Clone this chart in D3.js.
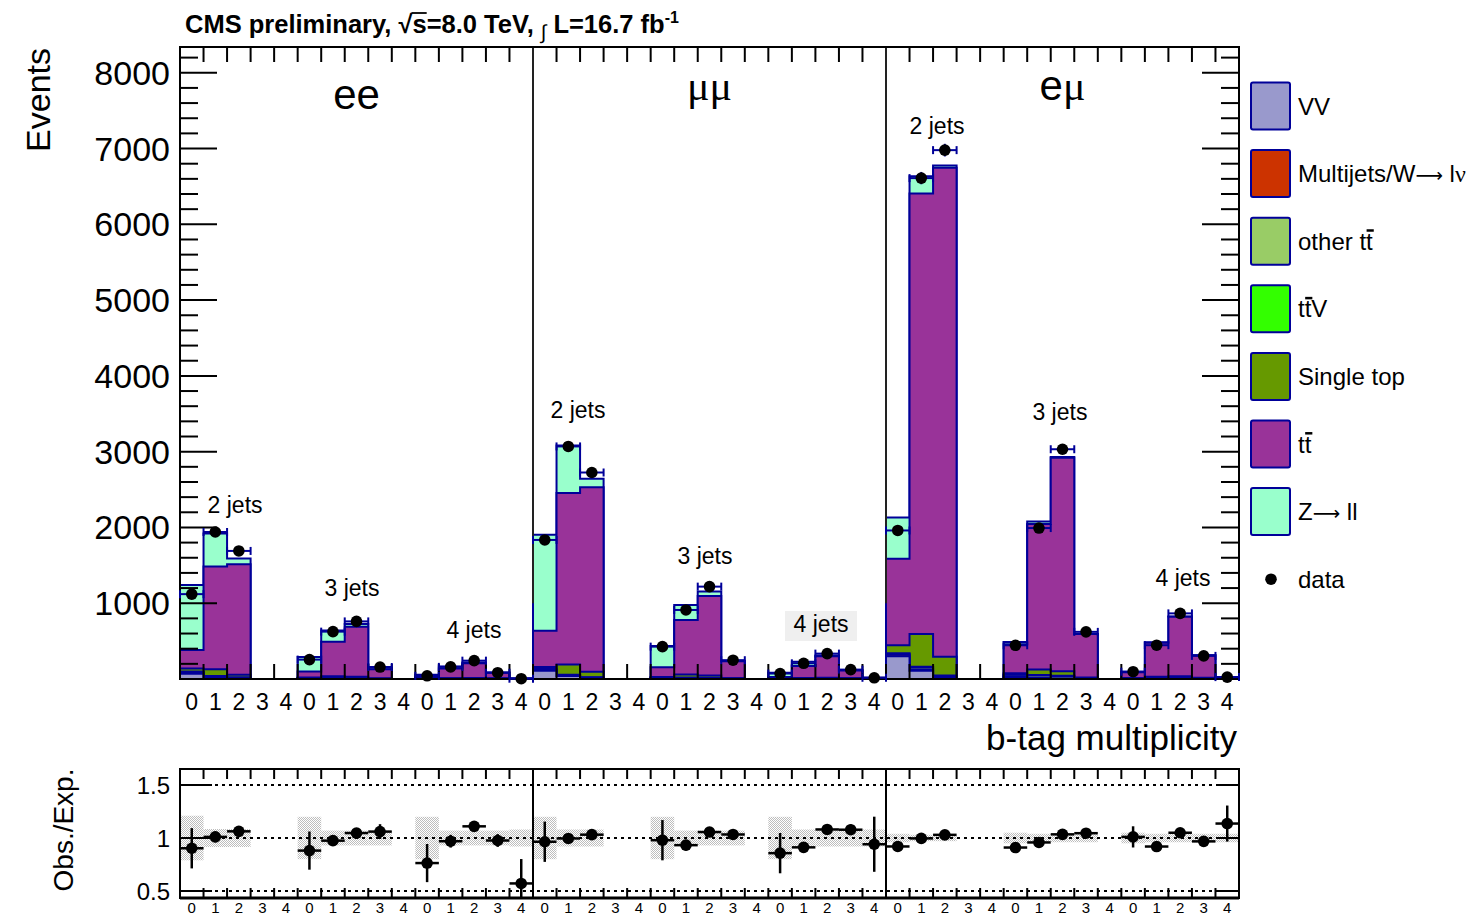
<!DOCTYPE html>
<html>
<head>
<meta charset="utf-8">
<script src="https://cdn.jsdelivr.net/npm/d3@7/dist/d3.min.js"></script>
<style>
  html, body { margin: 0; padding: 0; background: #fff; }
  svg text { font-family: "Liberation Sans", Arial, Helvetica, sans-serif; fill: #000; }
</style>
</head>
<body>
<svg id="chart" width="1482" height="914"></svg>
<script>
// ---------------- data ----------------
// 45 bins: channel (ee, μμ, eμ) × jet multiplicity (2,3,4) × b-tag multiplicity (0..4)
const channels = ["ee", "μμ", "eμ"];
const jetBins = ["2 jets", "3 jets", "4 jets"];
const btagBins = ["0", "1", "2", "3", "4"];
const yTicks = [1000, 2000, 3000, 4000, 5000, 6000, 7000, 8000];
const ratioTicks = [0.5, 1, 1.5];

// expected yields per process (events)
const vvYield = [
  70, 25, 10, 0, 0,   5, 3, 1, 0, 0,   1, 0, 0, 0, 0,
  110, 40, 10, 0, 0,  8, 6, 2, 0, 0,   2, 1, 0, 0, 0,
  300, 110, 10, 0, 0, 20, 10, 2, 0, 0, 2, 1, 0, 0, 0
];
const multijetYield = [
  12, 5, 3, 0, 0,   3, 2, 1, 0, 0,    1, 1, 0, 0, 0,
  10, 4, 2, 0, 0,   3, 2, 1, 0, 0,    1, 1, 0, 0, 0,
  20, 20, 5, 0, 0,  15, 10, 3, 0, 0,  2, 2, 0, 0, 0
];
const ttOtherYield = [
  14, 8, 6, 0, 0,   4, 5, 6, 4, 0,     2, 5, 8, 5, 1,
  12, 10, 8, 0, 0,  4, 8, 10, 5, 0,    1, 5, 8, 6, 2,
  15, 30, 25, 0, 0, 20, 30, 30, 10, 0, 3, 10, 15, 8, 2
];
const ttVYield = [
  1, 2, 2, 0, 0,  0.5, 1, 2, 1, 0,  0, 1, 2, 2, 1,
  1, 2, 2, 0, 0,  0.5, 2, 3, 1, 0,  0, 1, 3, 2, 1,
  1, 3, 5, 0, 0,  1, 4, 8, 4, 0,    0, 2, 5, 4, 2
];
const singleTopYield = [
  40, 90, 35, 0, 0,    8, 25, 20, 3, 0,   3, 4, 3, 1, 0,
  25, 135, 75, 0, 0,   10, 40, 30, 4, 0,  3, 6, 5, 1, 0,
  110, 430, 250, 0, 0, 20, 70, 60, 5, 0,  3, 15, 15, 3, 0
];
const ttYield = [
  246, 1354, 1459, 0, 0,   77, 457, 661, 120, 0,      18, 129, 195, 74, 5,
  480, 2262, 2435, 0, 0,   128.5, 721, 1050, 225, 0,  20, 158, 284, 104, 14,
  1141, 5814, 6452, 0, 0,  383, 1920, 2818, 574, 0,   80, 450, 788, 299, 18
];
const zllYield = [
  857, 436, 75, 0, 0,    193, 148, 35, 21, 0,  30, 25, 10, 3, 0,
  1264, 629, 110, 0, 0,  282, 198, 58, 5, 0,   57, 55, 10, 2, 0,
  543, 227, 30, 0, 0,    30, 35, 10, 2, 0,     5, 5, 2, 1, 0
];

// observed events
const observed = [
  1120, 1940, 1690, 0, 0,  256, 625, 760, 158, 0,    42, 160, 242, 83, 4,
  1835, 3069, 2725, 0, 0,  427, 911, 1219, 248, 0,   72, 207, 335, 124, 16,
  1960, 6610, 6979, 0, 0,  445, 1992, 3032, 622, 0,  96, 446, 866, 305, 25
];

// total uncertainty on Obs./Exp. and relative uncertainty on the expectation
const ratioError = [
  0.19, 0.05, 0.03, 0, 0,  0.18, 0.05, 0.04, 0.07, 0,  0.18, 0.06, 0.05, 0.06, 0.23,
  0.19, 0.03, 0.03, 0, 0,  0.19, 0.05, 0.03, 0.03, 0,  0.19, 0.05, 0.05, 0.05, 0.26,
  0.03, 0.02, 0.02, 0, 0,  0.03, 0.02, 0.02, 0.03, 0,  0.10, 0.03, 0.03, 0.03, 0.17
];
const expUncertainty = [
  0.21, 0.085, 0.085, 0, 0,  0.20, 0.07, 0.07, 0.07, 0,  0.20, 0.07, 0.07, 0.07, 0.08,
  0.20, 0.08, 0.08, 0, 0,    0.20, 0.07, 0.07, 0.07, 0,  0.20, 0.08, 0.08, 0.08, 0.08,
  0.04, 0.03, 0.03, 0, 0,    0.05, 0.04, 0.04, 0.04, 0,  0.05, 0.04, 0.04, 0.04, 0.04
];

// jet-multiplicity annotations: centre (in bins) and baseline (in events)
const jetLabelBin   = [2.34, 7.31, 12.49, 16.91, 22.31, 27.24, 32.17, 37.39, 42.62];
const jetLabelValue = [2190, 1095, 540, 3445, 1518, 620, 7194, 3419, 1228];
const channelLabelValue = [7525, 7635, 7635];

// ---------------- setup ----------------
const svg = d3.select("#chart");
const W = +svg.attr("width"), H = +svg.attr("height");
svg.append("rect").attr("width", W).attr("height", H).attr("fill", "#fff");

const NAVY = "#000099";
const nBins = channels.length * jetBins.length * btagBins.length;
const perChannel = jetBins.length * btagBins.length;

const plot = { left: 180, right: 1239, top: 47, bottom: 679 };
const rplot = { left: 180, right: 1239, top: 769, bottom: 898 };

const x = d3.scaleLinear().domain([0, nBins]).range([plot.left, plot.right]);
const y = d3.scaleLinear().domain([0, 8340]).range([plot.bottom, plot.top]);
const yr = d3.scaleLinear().domain([0.434, 1.651]).range([rplot.bottom, rplot.top]);

const ARROW = "⟶";
const components = [
  { key: "vv",      label: "VV",                       color: "#9999cc", values: vvYield,        bars: [] },
  { key: "qcd",     label: "Multijets/W" + ARROW + " lν", color: "#cc3300", values: multijetYield,  bars: [] },
  { key: "ttOther", label: "other tt",                 color: "#99cc66", values: ttOtherYield,   bars: [7] },
  { key: "ttV",     label: "ttV",                      color: "#33ff00", values: ttVYield,       bars: [1] },
  { key: "st",      label: "Single top",               color: "#669900", values: singleTopYield, bars: [] },
  { key: "tt",      label: "tt",                       color: "#993399", values: ttYield,        bars: [1] },
  { key: "dy",      label: "Z" + ARROW + " ll",         color: "#99ffcc", values: zllYield,       bars: [] }
];

const rows = d3.range(nBins).map(i =>
  Object.fromEntries(components.map(c => [c.key, c.values[i]])));
const stacked = d3.stack().keys(components.map(c => c.key))(rows);
const expected = d3.range(nBins).map(i => stacked[stacked.length - 1][i][1]);

// draws a string, switching Greek letters to a serif face and arrows to a thin one
function richText(sel, str) {
  for (const ch of str) {
    const greek = /[\u0370-\u03ff]/.test(ch);
    const arrow = ch === ARROW;
    sel.append("tspan")
      .style("font-family", greek ? "'Liberation Serif', 'DejaVu Serif', serif"
                          : arrow ? "'DejaVu Sans', sans-serif" : null)
      .attr("font-size", arrow ? "0.8em" : null)
      .text(ch);
  }
  return sel;
}
// overbar above selected characters (anti-quark notation)
function overBars(textSel, indices, fs, baseline, parent) {
  const node = textSel.node();
  indices.forEach(ix => {
    const e = node.getExtentOfChar(ix);
    parent.append("line")
      .attr("x1", e.x + 0.5).attr("x2", e.x + e.width + 1)
      .attr("y1", baseline - fs * 0.8).attr("y2", baseline - fs * 0.8)
      .attr("stroke", "#000").attr("stroke-width", 2.5);
  });
}

// ---------------- main panel: stacked expectation ----------------
const gStack = svg.append("g");
const area = d3.area().x(p => x(p.i)).y0(y(0)).y1(p => y(p.v)).curve(d3.curveStepAfter);
const outline = d3.line().x(p => x(p.i)).y(p => y(p.v)).curve(d3.curveStepAfter);
for (let k = stacked.length - 1; k >= 0; k--) {
  const s = stacked[k];
  const pts = s.map((d, i) => ({ i, v: d[1] }));
  pts.push({ i: nBins, v: s[nBins - 1][1] });
  gStack.append("path").attr("d", area(pts)).attr("fill", components[k].color);
  gStack.append("path")
    .attr("d", outline([{ i: 0, v: 0 }, ...pts, { i: nBins, v: 0 }]))
    .attr("fill", "none").attr("stroke", NAVY).attr("stroke-width", 2)
    .attr("stroke-linejoin", "miter");
}

// ---------------- main panel: frame, ticks, separators ----------------
const gAx = svg.append("g").attr("stroke", "#000").attr("stroke-width", 2);
d3.range(1, nBins).forEach(i => {
  gAx.append("line").attr("x1", x(i)).attr("x2", x(i)).attr("y1", plot.top).attr("y2", plot.top + 15);
  gAx.append("line").attr("x1", x(i)).attr("x2", x(i)).attr("y1", plot.bottom).attr("y2", plot.bottom - 15);
});
d3.range(200, 8340, 200).forEach(v => {
  const len = v % 1000 === 0 ? 37 : 18;
  gAx.append("line").attr("x1", plot.left).attr("x2", plot.left + len).attr("y1", y(v)).attr("y2", y(v));
  gAx.append("line").attr("x1", plot.right).attr("x2", plot.right - len).attr("y1", y(v)).attr("y2", y(v));
});
d3.range(1, channels.length).forEach(c => {
  gAx.append("line").attr("x1", x(c * perChannel)).attr("x2", x(c * perChannel))
    .attr("y1", y(1000)).attr("y2", plot.top).attr("stroke", "#222");
});
gAx.append("rect").attr("x", plot.left).attr("y", plot.top)
  .attr("width", plot.right - plot.left).attr("height", plot.bottom - plot.top).attr("fill", "none");

// y tick labels
svg.append("g").selectAll("text").data(yTicks).join("text")
  .attr("x", 170).attr("y", d => y(d) + 12)
  .attr("text-anchor", "end").attr("font-size", 34).text(d => d);

// x tick labels (b-tag multiplicity)
svg.append("g").selectAll("text").data(d3.range(nBins)).join("text")
  .attr("x", i => x(i + 0.5)).attr("y", 710)
  .attr("text-anchor", "middle").attr("font-size", 23)
  .text(i => btagBins[i % btagBins.length]);

svg.append("text").attr("x", 1237).attr("y", 750).attr("text-anchor", "end")
  .attr("font-size", 35).text("b-tag multiplicity");
svg.append("text").attr("transform", "translate(50,48) rotate(-90)")
  .attr("text-anchor", "end").attr("font-size", 34).text("Events");

// channel labels
channels.forEach((c, k) => {
  const t = svg.append("text").attr("x", x(k * perChannel + perChannel / 2))
    .attr("y", y(channelLabelValue[k])).attr("text-anchor", "middle").attr("font-size", 42);
  richText(t, c);
});

// jet multiplicity labels
jetLabelBin.forEach((b, k) => {
  const bx = x(b), by = y(jetLabelValue[k]);
  if (k === 5) {
    svg.append("rect").attr("x", bx - 36).attr("y", by - 21).attr("width", 72).attr("height", 30)
      .attr("fill", "#efefef");
  }
  svg.append("text").attr("x", bx).attr("y", by).attr("text-anchor", "middle")
    .attr("font-size", 23).text(jetBins[k % jetBins.length]);
});

// ---------------- main panel: observed ----------------
const gData = svg.append("g");
d3.range(nBins).filter(i => observed[i] > 0).forEach(i => {
  const v = observed[i], e = Math.sqrt(v);
  const cy = y(v);
  gData.append("line").attr("x1", x(i)).attr("x2", x(i + 1)).attr("y1", cy).attr("y2", cy)
    .attr("stroke", NAVY).attr("stroke-width", 2);
  [x(i), x(i + 1)].forEach(ex => gData.append("line").attr("x1", ex).attr("x2", ex)
    .attr("y1", cy - 4).attr("y2", cy + 4).attr("stroke", NAVY).attr("stroke-width", 2));
  gData.append("line").attr("x1", x(i + 0.5)).attr("x2", x(i + 0.5))
    .attr("y1", y(v + e)).attr("y2", Math.min(y(v - e), plot.bottom))
    .attr("stroke", NAVY).attr("stroke-width", 2);
  gData.append("circle").attr("cx", x(i + 0.5)).attr("cy", cy).attr("r", 5.8).attr("fill", "#000");
});

// title
const titleY = 33, titleFs = 25.5;
const title = svg.append("text").attr("x", 185).attr("y", titleY)
  .attr("font-weight", "bold").attr("font-size", titleFs);
title.append("tspan").text("CMS preliminary, √");
title.append("tspan").text("s");
title.append("tspan").text("=8.0 TeV, ");
title.append("tspan").attr("font-size", 20).attr("font-weight", "normal").attr("dy", 6).text("∫");
title.append("tspan").attr("dy", -6).text(" L=16.7 fb");
title.append("tspan").attr("font-size", 16).attr("dy", -10).text("-1");
{
  const e = title.node().getExtentOfChar("CMS preliminary, √".length);
  svg.append("line").attr("x1", e.x - 1).attr("x2", e.x + e.width)
    .attr("y1", titleY - 20).attr("y2", titleY - 20)
    .attr("stroke", "#000").attr("stroke-width", 1.8);
}

// ---------------- legend ----------------
const gLeg = svg.append("g");
const legendRow = k => 106 + k * 67.6;
components.forEach((c, k) => {
  const cy = legendRow(k);
  gLeg.append("rect").attr("x", 1251).attr("y", cy - 23.5).attr("width", 39).attr("height", 47)
    .attr("rx", 2).attr("fill", c.color).attr("stroke", NAVY).attr("stroke-width", 2);
  const base = cy + 8.5;
  const t = gLeg.append("text").attr("x", 1298).attr("y", base).attr("font-size", 24);
  richText(t, c.label);
  overBars(t, c.bars, 24, base, gLeg);
});
{
  const cy = legendRow(components.length);
  gLeg.append("circle").attr("cx", 1271).attr("cy", cy).attr("r", 5.8).attr("fill", "#000");
  gLeg.append("text").attr("x", 1298).attr("y", cy + 8.5).attr("font-size", 24).text("data");
}

// ---------------- ratio panel ----------------
const defs = svg.append("defs");
const pat = defs.append("pattern").attr("id", "checker").attr("width", 2).attr("height", 2)
  .attr("patternUnits", "userSpaceOnUse");
pat.append("rect").attr("width", 2).attr("height", 2).attr("fill", "#fff");
pat.append("rect").attr("width", 1).attr("height", 1).attr("fill", "#bdbdbd");
pat.append("rect").attr("x", 1).attr("y", 1).attr("width", 1).attr("height", 1).attr("fill", "#bdbdbd");
defs.append("clipPath").attr("id", "rclip").append("rect")
  .attr("x", rplot.left).attr("y", rplot.top)
  .attr("width", rplot.right - rplot.left).attr("height", rplot.bottom - rplot.top);

const gR = svg.append("g").attr("clip-path", "url(#rclip)");
// expectation uncertainty band
d3.range(nBins).filter(i => expected[i] > 0).forEach(i => {
  const u = expUncertainty[i];
  gR.append("rect").attr("x", x(i)).attr("width", x(i + 1) - x(i))
    .attr("y", yr(1 + u)).attr("height", yr(1 - u) - yr(1 + u)).attr("fill", "url(#checker)");
});
// reference lines
ratioTicks.forEach(v => {
  gR.append("line").attr("x1", rplot.left).attr("x2", rplot.right).attr("y1", yr(v)).attr("y2", yr(v))
    .attr("stroke", "#000").attr("stroke-width", 2).attr("stroke-dasharray", "3,4");
});
// observed / expected
d3.range(nBins).filter(i => observed[i] > 0 && expected[i] > 0).forEach(i => {
  const r = observed[i] / expected[i], e = ratioError[i];
  gR.append("line").attr("x1", x(i)).attr("x2", x(i + 1)).attr("y1", yr(r)).attr("y2", yr(r))
    .attr("stroke", "#000").attr("stroke-width", 2.5);
  gR.append("line").attr("x1", x(i + 0.5)).attr("x2", x(i + 0.5))
    .attr("y1", yr(r + e)).attr("y2", yr(r - e)).attr("stroke", "#000").attr("stroke-width", 2.5);
  gR.append("circle").attr("cx", x(i + 0.5)).attr("cy", yr(r)).attr("r", 5.8).attr("fill", "#000");
});

// ratio frame and ticks
const gRA = svg.append("g").attr("stroke", "#000").attr("stroke-width", 2);
d3.range(1, nBins).forEach(i => {
  gRA.append("line").attr("x1", x(i)).attr("x2", x(i)).attr("y1", rplot.top).attr("y2", rplot.top + 10);
  gRA.append("line").attr("x1", x(i)).attr("x2", x(i)).attr("y1", rplot.bottom).attr("y2", rplot.bottom - 10);
});
ratioTicks.forEach(v => {
  gRA.append("line").attr("x1", rplot.left).attr("x2", rplot.left + 32).attr("y1", yr(v)).attr("y2", yr(v));
  gRA.append("line").attr("x1", rplot.right).attr("x2", rplot.right - 23).attr("y1", yr(v)).attr("y2", yr(v));
});
d3.range(1, channels.length).forEach(c => {
  gRA.append("line").attr("x1", x(c * perChannel)).attr("x2", x(c * perChannel))
    .attr("y1", rplot.top).attr("y2", rplot.bottom);
});
gRA.append("rect").attr("x", rplot.left).attr("y", rplot.top)
  .attr("width", rplot.right - rplot.left).attr("height", rplot.bottom - rplot.top).attr("fill", "none");
gRA.append("line").attr("x1", rplot.left).attr("x2", rplot.right)
  .attr("y1", rplot.bottom).attr("y2", rplot.bottom).attr("stroke-width", 3);

svg.append("g").selectAll("text").data(ratioTicks).join("text")
  .attr("x", 170).attr("y", d => yr(d) + 8.6).attr("text-anchor", "end")
  .attr("font-size", 24).text(d => d);
svg.append("text").attr("transform", "translate(73,830) rotate(-90)")
  .attr("text-anchor", "middle").attr("font-size", 28).text("Obs./Exp.");
svg.append("g").selectAll("text").data(d3.range(nBins)).join("text")
  .attr("x", i => x(i + 0.5)).attr("y", 912.5)
  .attr("text-anchor", "middle").attr("font-size", 15)
  .text(i => btagBins[i % btagBins.length]);
</script>
</body>
</html>
